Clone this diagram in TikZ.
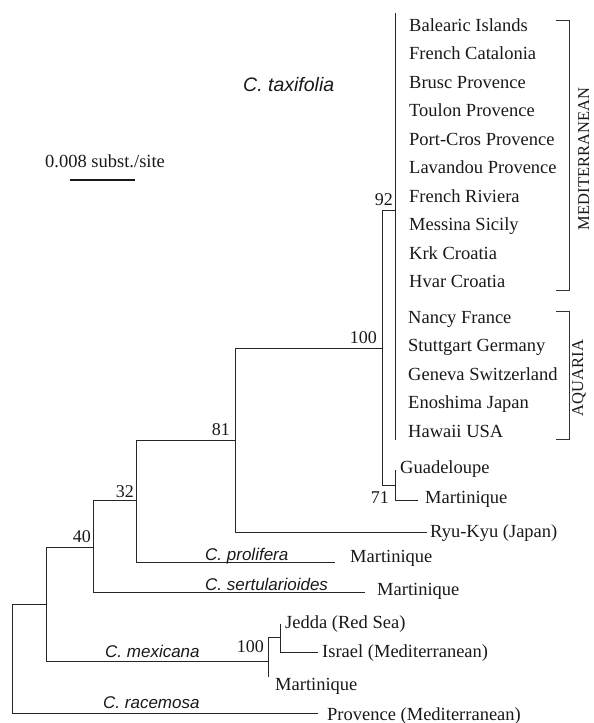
\documentclass[tikz,border=0pt]{standalone}
\usepackage{fontspec}
\setmainfont{Liberation Serif}
\newfontfamily\sansfam{Liberation Sans}
\begin{document}
\begin{tikzpicture}[x=1pt,y=-1pt,
  branch/.style={draw=black!85,line width=0.8pt},
  bracketline/.style={draw=black!80,line width=0.7pt},
  lab/.style={anchor=base west,inner sep=0pt,font=\fontsize{18.5}{20}\selectfont,text=black!90},
  num/.style={anchor=base east,inner sep=0pt,font=\fontsize{18}{20}\selectfont,text=black!90},
  taxon/.style={anchor=base west,inner sep=0pt,font=\sansfam\itshape\fontsize{17}{19}\selectfont,text=black!90},
  grp/.style={anchor=base,rotate=90,inner sep=0pt,font=\fontsize{16.5}{18}\selectfont,text=black!90}]
\useasboundingbox (0,0) rectangle (594,723);

% ---------- tree coordinates ----------
\coordinate (pTop) at (395,13);
\coordinate (pBot) at (395,440);
\coordinate (pA) at (395,210);
\coordinate (cA) at (382,210);
\coordinate (cB) at (382,485);
\coordinate (cS) at (382,348);
\coordinate (bS) at (395,485);
\coordinate (bTop) at (395,470);
\coordinate (bBot) at (395,500);
\coordinate (bEnd) at (418,500);
\coordinate (dS) at (235,348);
\coordinate (dBot) at (235,532);
\coordinate (dM) at (235,440);
\coordinate (ryuEnd) at (427,532);
\coordinate (eTop) at (136,440);
\coordinate (eBot) at (136,562);
\coordinate (eM) at (136,500);
\coordinate (prolEnd) at (335,562);
\coordinate (fTop) at (93,500);
\coordinate (fBot) at (93,592);
\coordinate (fM) at (93,547);
\coordinate (sertEnd) at (365,592);
\coordinate (iTop) at (46,547);
\coordinate (iBot) at (46,661);
\coordinate (iM) at (46,604);
\coordinate (gMex) at (268,661);
\coordinate (gTop) at (268,637);
\coordinate (gBot) at (268,677);
\coordinate (hS) at (280,637);
\coordinate (hTop) at (280,624);
\coordinate (hBot) at (280,652);
\coordinate (isrEnd) at (318,652);
\coordinate (rTop) at (12,604);
\coordinate (rBot) at (12,713);
\coordinate (racEnd) at (318,713);

% ---------- branches ----------
\draw[branch] (pTop) -- (pBot);
\draw[branch] (cA) -- (pA);
\draw[branch] (cA) -- (cB) -- (bS);
\draw[branch] (bTop) -- (bBot) -- (bEnd);
\draw[branch] (dS) -- (cS);
\draw[branch] (dS) -- (dBot) -- (ryuEnd);
\draw[branch] (eTop) -- (dM);
\draw[branch] (eTop) -- (eBot) -- (prolEnd);
\draw[branch] (fTop) -- (eM);
\draw[branch] (fTop) -- (fBot) -- (sertEnd);
\draw[branch] (iTop) -- (fM);
\draw[branch] (iTop) -- (iBot) -- (gMex);
\draw[branch] (gTop) -- (gBot);
\draw[branch] (gTop) -- (hS);
\draw[branch] (hTop) -- (hBot) -- (isrEnd);
\draw[branch] (rTop) -- (iM);
\draw[branch] (rTop) -- (rBot) -- (racEnd);

% ---------- leaf labels ----------
\node[lab] (l1) at (409,31) {Balearic Islands};
\node[lab] (l2) at (409,59.5) {French Catalonia};
\node[lab] (l3) at (409,88) {Brusc Provence};
\node[lab] (l4) at (409,116.5) {Toulon Provence};
\node[lab] (l5) at (409,145) {Port-Cros Provence};
\node[lab] (l6) at (409,173.5) {Lavandou Provence};
\node[lab] (l7) at (409,202) {French Riviera};
\node[lab] (l8) at (409,230.5) {Messina Sicily};
\node[lab] (l9) at (409,259) {Krk Croatia};
\node[lab] (l10) at (409,287.5) {Hvar Croatia};
\node[lab] (l11) at (408,323) {Nancy France};
\node[lab] (l12) at (408,351.5) {Stuttgart Germany};
\node[lab] (l13) at (408,380) {Geneva Switzerland};
\node[lab] (l14) at (408,408.5) {Enoshima Japan};
\node[lab] (l15) at (408,437) {Hawaii USA};
\node[lab] (guad) at (400,473) {Guadeloupe};
\node[lab] (mart1) at (425,503) {Martinique};
\node[lab] (ryu) at (430,537) {Ryu-Kyu (Japan)};
\node[lab] (mart2) at (350,562) {Martinique};
\node[lab] (mart3) at (377,595) {Martinique};
\node[lab] (jedda) at (285,628) {Jedda (Red Sea)};
\node[lab] (israel) at (322,657) {Israel (Mediterranean)};
\node[lab] (mart4) at (275,690) {Martinique};
\node[lab] (prov) at (327,720) {Provence (Mediterranean)};

% ---------- support values ----------
\node[num] (n92) at (393,205) {92};
\node[num] (n100a) at (377,343) {100};
\node[num] (n81) at (230,435) {81};
\node[num] (n32) at (134,497) {32};
\node[num] (n40) at (91,542) {40};
\node[num] (n71) at (389,503) {71};
\node[num] (n100b) at (264,652) {100};

% ---------- taxon names ----------
\node[taxon,font=\sansfam\itshape\fontsize{19.5}{21}\selectfont] (tax) at (243,91) {C. taxifolia};
\node[taxon] (prol) at (205,560) {C. prolifera};
\node[taxon] (sert) at (205,590) {C. sertularioides};
\node[taxon] (mex) at (105,657) {C. mexicana};
\node[taxon] (rac) at (103,708) {C. racemosa};

% ---------- scale bar ----------
\node[lab] (scale) at (45,167) {0.008 subst./site};
\coordinate (sb1) at (70,180);
\coordinate (sb2) at (135,180);
\draw[line width=1.6pt,black!90] (sb1) -- (sb2);

% ---------- group brackets ----------
\coordinate (m1) at (556,20);
\coordinate (m2) at (569,20);
\coordinate (m3) at (569,290);
\coordinate (m4) at (556,290);
\draw[bracketline] (m1) -- (m2) -- (m3) -- (m4);
\node[grp] (med) at (589,159) {MEDITERRANEAN};
\coordinate (a1) at (556,311);
\coordinate (a2) at (569,311);
\coordinate (a3) at (569,439);
\coordinate (a4) at (556,439);
\draw[bracketline] (a1) -- (a2) -- (a3) -- (a4);
\node[grp] (aq) at (583,378) {AQUARIA};
\end{tikzpicture}
\end{document}
